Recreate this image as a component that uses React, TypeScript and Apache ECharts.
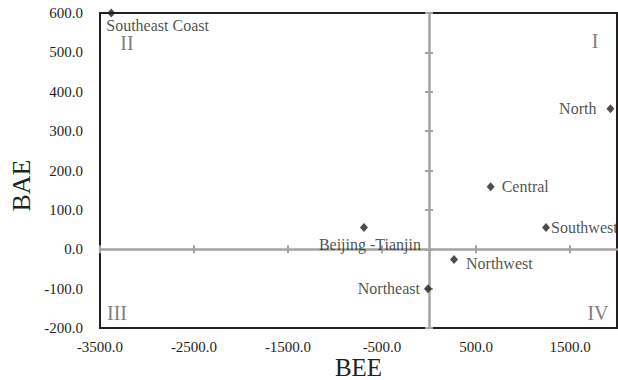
import React, { useEffect, useRef } from "react";
import * as echarts from "echarts";

// ---- data ----
const regions = [
  "Southeast Coast",
  "North",
  "Central",
  "Southwest",
  "Northwest",
  "Northeast",
  "Beijing -Tianjin",
];
const beeValues = [-3380, 1930, 656, 1245, 266, -11, -692];
const baeValues = [600, 357, 159, 55, -26, -100, 55];
const xTickValues = [-3500, -2500, -1500, -500, 500, 1500];
const quadrantNames = ["I", "II", "III", "IV"];

// ---- styles ----
const INK = "#231f20";
const GRAY = "#a3a3a3";
const SERIF = "Liberation Serif";
const GRID = { left: 100, top: 13, width: 517, height: 315, outerBoundsMode: "none", containLabel: false };

const labelLayouts: Record<string, any> = {
  "Southeast Coast": { position: "bottom", distance: 0, align: "left", offset: [-5, 0] },
  North: { position: "left", distance: 10 },
  Central: { position: "right", distance: 7 },
  Southwest: { position: "right", distance: 1 },
  Northwest: { position: "right", distance: 8, offset: [0, 4] },
  Northeast: { position: "left", distance: 4 },
  "Beijing -Tianjin": { position: "bottom", distance: 4, offset: [6, 0] },
};

const quadrantPos = [
  { x: 595, y: 41 },
  { x: 127, y: 43 },
  { x: 117, y: 313 },
  { x: 598, y: 313 },
];

export default function App() {
  const ref = useRef<HTMLDivElement>(null);
  useEffect(() => {
    if (!ref.current) return;
    const chart = echarts.init(ref.current, undefined, { renderer: "svg" });
    const fmt = (v: number) => Number(v).toFixed(1);
    const tickLabel = { color: INK, fontFamily: SERIF, fontSize: 15, lineHeight: 15 };
    const crossX = (gridIndex: number, inside: boolean) => ({
      gridIndex,
      type: "value",
      min: -3500,
      max: 2000,
      axisLine: { show: inside, onZero: true, lineStyle: { color: GRAY, width: 2.5 } },
      axisTick: {
        show: true,
        inside,
        length: 4,
        customValues: xTickValues,
        lineStyle: { color: GRAY, width: 2 },
      },
      axisLabel: { show: false },
      splitLine: { show: false },
    });
    const crossY = (gridIndex: number, inside: boolean) => ({
      gridIndex,
      type: "value",
      min: -200,
      max: 600,
      interval: 100,
      axisLine: { show: inside, onZero: true, lineStyle: { color: GRAY, width: 2.5 } },
      axisTick: { show: true, inside, length: 4, lineStyle: { color: GRAY, width: 2 } },
      axisLabel: { show: false },
      splitLine: { show: false },
    });
    chart.setOption({
      animation: false,
      backgroundColor: "#ffffff",
      textStyle: { fontFamily: SERIF },
      grid: [
        { ...GRID, show: true, borderColor: INK, borderWidth: 2, backgroundColor: "transparent" },
        { ...GRID },
        { ...GRID },
      ],
      xAxis: [
        {
          gridIndex: 0,
          type: "value",
          min: -3500,
          max: 2000,
          position: "bottom",
          axisLine: { show: false, onZero: false },
          axisTick: { show: false },
          splitLine: { show: false },
          axisLabel: { ...tickLabel, customValues: xTickValues, formatter: fmt, margin: 11 },
          name: "BEE",
          nameLocation: "middle",
          nameGap: 27,
          nameMoveOverlap: false,
          nameTextStyle: { color: INK, fontFamily: SERIF, fontSize: 25, lineHeight: 25 },
        },
        crossX(1, true),
        crossX(2, false),
      ],
      yAxis: [
        {
          gridIndex: 0,
          type: "value",
          min: -200,
          max: 600,
          interval: 100,
          position: "left",
          axisLine: { show: false, onZero: false },
          axisTick: { show: false },
          splitLine: { show: false },
          axisLabel: { ...tickLabel, formatter: fmt, margin: 17 },
          name: "BAE",
          nameLocation: "middle",
          nameGap: 66,
          nameMoveOverlap: false,
          nameTextStyle: {
            color: INK,
            fontFamily: SERIF,
            fontSize: 26,
            padding: [0, 30, 0, 0],
          },
        },
        crossY(1, true),
        crossY(2, false),
      ],
      graphic: quadrantNames.map((t, i) => ({
        type: "text",
        x: quadrantPos[i].x,
        y: quadrantPos[i].y,
        z: 10,
        style: {
          text: t,
          fill: "#808080",
          fontFamily: SERIF,
          fontSize: 20,
          align: "center",
          verticalAlign: "middle",
        },
      })),
      series: [
        {
          type: "scatter",
          xAxisIndex: 0,
          yAxisIndex: 0,
          symbol: "diamond",
          symbolSize: [8, 9],
          clip: false,
          z: 20,
          itemStyle: { color: INK },
          label: {
            show: true,
            formatter: "{b}",
            color: INK,
            fontFamily: SERIF,
            fontSize: 16,
          },
          data: regions.map((name, i) => ({
            name,
            value: [beeValues[i], baeValues[i]],
            label: labelLayouts[name],
          })),
        },
      ],
    });
    return () => chart.dispose();
  }, []);
  return (
    <div
      ref={ref}
      style={{ position: "fixed", left: 0, top: 0, width: 618, height: 380, background: "#fff" }}
    />
  );
}
